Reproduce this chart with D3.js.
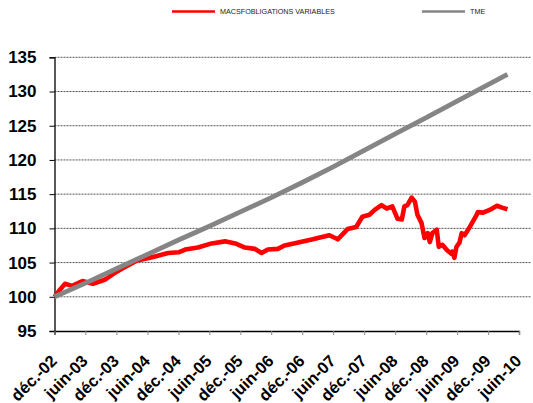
<!DOCTYPE html>
<html>
<head>
<meta charset="utf-8">
<script src="https://cdn.jsdelivr.net/npm/d3@7"></script>
<style>
  body { margin: 0; background: #fff; }
  svg { display: block; }
</style>
</head>
<body>
<div id="chart"></div>
<script>
// MACSF obligations variables vs TME, base 100 en déc. 2002
const tickLabels = ['déc.-02', 'juin-03', 'déc.-03', 'juin-04', 'déc.-04', 'juin-05', 'déc.-05', 'juin-06',
  'déc.-06', 'juin-07', 'déc.-07', 'juin-08', 'déc.-08', 'juin-09', 'déc.-09', 'juin-10'];
const yTicks = [95, 100, 105, 110, 115, 120, 125, 130, 135];

const macsfDates = ['2002-12-01', '2003-01-01', '2003-02-01', '2003-03-15', '2003-05-15', '2003-07-15', '2003-09-01',
  '2003-10-01', '2003-11-15', '2004-01-10', '2004-04-01', '2004-06-15', '2004-08-01', '2004-10-01', '2004-12-01',
  '2005-01-10', '2005-03-25', '2005-06-15', '2005-09-01', '2005-11-01', '2005-12-28', '2006-02-25', '2006-04-05',
  '2006-05-12', '2006-07-10', '2006-08-18', '2006-11-01', '2007-02-01', '2007-05-10', '2007-06-28', '2007-08-25',
  '2007-10-15', '2007-11-20', '2008-01-01', '2008-02-01', '2008-03-12', '2008-04-12', '2008-05-15', '2008-06-15',
  '2008-07-10', '2008-07-25', '2008-08-12', '2008-09-06', '2008-09-25', '2008-10-10', '2008-11-03', '2008-11-21',
  '2008-12-10', '2008-12-22', '2009-01-06', '2009-02-01', '2009-02-13', '2009-03-06', '2009-04-03', '2009-04-28',
  '2009-05-04', '2009-05-16', '2009-05-28', '2009-06-15', '2009-06-28', '2009-07-15', '2009-08-15', '2009-09-25',
  '2009-10-01', '2009-11-01', '2009-12-10', '2010-01-22', '2010-02-25', '2010-03-25'];
const macsfValues = [100.0, 101.0, 101.9, 101.6, 102.3, 101.9, 102.3,
  102.6, 103.4, 104.2, 105.3, 105.7, 106.0, 106.4, 106.5,
  106.9, 107.2, 107.8, 108.1, 107.8, 107.2, 107.0, 106.4,
  106.9, 107.0, 107.5, 107.9, 108.4, 109.0, 108.4, 109.9,
  110.2, 111.7, 112.0, 112.7, 113.4, 112.9, 113.2, 111.4,
  111.3, 113.2, 113.4, 114.5, 113.9, 112.0, 110.8, 108.6,
  109.3, 108.0, 109.3, 109.8, 107.3, 107.6, 106.8, 106.3,
  106.6, 105.7, 107.3, 107.9, 109.3, 109.0, 110.2, 112.0,
  112.4, 112.3, 112.7, 113.3, 113.0, 112.8];

const tmeDates = ['2002-12-01', '2003-06-01', '2003-12-01', '2004-06-01', '2004-12-01', '2005-06-01', '2005-12-01',
  '2006-06-01', '2006-12-01', '2007-06-01', '2007-12-01', '2008-06-01', '2008-12-01', '2009-06-01', '2009-12-01',
  '2010-03-25'];
const tmeValues = [100.0, 102.0, 104.1, 106.2, 108.3, 110.3, 112.4,
  114.5, 116.7, 119.0, 121.4, 123.8, 126.2, 128.6, 131.0,
  132.5];

const series = [
  { name: 'MACSFOBLIGATIONS VARIABLES', color: '#ff0000', width: 4.6, dates: macsfDates, values: macsfValues },
  { name: 'TME', color: '#858585', width: 4.8, dates: tmeDates, values: tmeValues }
];

const width = 533;
const height = 403;
const font = '"Liberation Sans", Arial, Helvetica, sans-serif';
const parse = d3.timeParse('%Y-%m-%d');
const start = parse('2002-12-01');
const tickDates = tickLabels.map((t, i) => d3.timeMonth.offset(start, 6 * i));

const x = d3.scaleTime()
  .domain([tickDates[0], tickDates[tickDates.length - 1]])
  .range([54.5, 519]);
const y = d3.scaleLinear()
  .domain([95, 135])
  .range([331, 57.3]);

const svg = d3.select('#chart').append('svg')
  .attr('width', width)
  .attr('height', height)
  .attr('font-family', font);

// grid
svg.append('g')
  .selectAll('line')
  .data(yTicks.filter(v => v > 95))
  .enter()
  .append('line')
  .attr('x1', x.range()[0])
  .attr('x2', 531)
  .attr('y1', d => y(d))
  .attr('y2', d => y(d))
  .attr('stroke', '#555')
  .attr('stroke-width', 1)
  .attr('stroke-dasharray', '2,1');

// y axis
const yAxis = svg.append('g')
  .attr('transform', `translate(${x.range()[0]},0)`)
  .call(d3.axisLeft(y).tickValues(yTicks).tickSize(5).tickPadding(13));
yAxis.select('.domain').attr('stroke', '#000').attr('stroke-width', 1.3);
yAxis.selectAll('.tick line').attr('stroke', '#000');
yAxis.selectAll('.tick text')
  .attr('font-family', font)
  .attr('font-size', 17)
  .attr('font-weight', 'bold')
  .attr('fill', '#000');

// x axis
const xAxis = svg.append('g')
  .attr('transform', `translate(0,${y(95)})`)
  .call(d3.axisBottom(x).tickValues(tickDates).tickSize(4).tickFormat((d, i) => tickLabels[i]));
xAxis.select('.domain').attr('stroke', '#000').attr('stroke-width', 1.3);
xAxis.selectAll('.tick line').attr('stroke', '#888');
xAxis.selectAll('.tick text')
  .attr('font-family', font)
  .attr('font-size', 16.5)
  .attr('font-weight', 'bold')
  .attr('fill', '#000')
  .attr('text-anchor', 'end')
  .attr('dy', null)
  .attr('y', 0)
  .attr('transform', 'translate(3,31) rotate(-45)');

// lines
const line = d3.line()
  .x(d => x(d.date))
  .y(d => y(d.value));

svg.append('g')
  .selectAll('path')
  .data(series)
  .enter()
  .append('path')
  .attr('d', s => line(s.dates.map((d, i) => ({ date: parse(d), value: s.values[i] }))))
  .attr('fill', 'none')
  .attr('stroke', s => s.color)
  .attr('stroke-width', s => s.width)
  .attr('stroke-linejoin', 'round');

// legend
const legendX = [172, 422];
const legend = svg.append('g')
  .selectAll('g')
  .data(series)
  .enter()
  .append('g')
  .attr('transform', (s, i) => `translate(${legendX[i]},11.5)`);
legend.append('line')
  .attr('x1', 0)
  .attr('x2', 43)
  .attr('stroke', s => s.color)
  .attr('stroke-width', 2.5);
legend.append('text')
  .attr('x', 48)
  .attr('y', 2.5)
  .attr('font-size', 7.2)
  .attr('fill', '#222')
  .text(s => s.name);
</script>
</body>
</html>
